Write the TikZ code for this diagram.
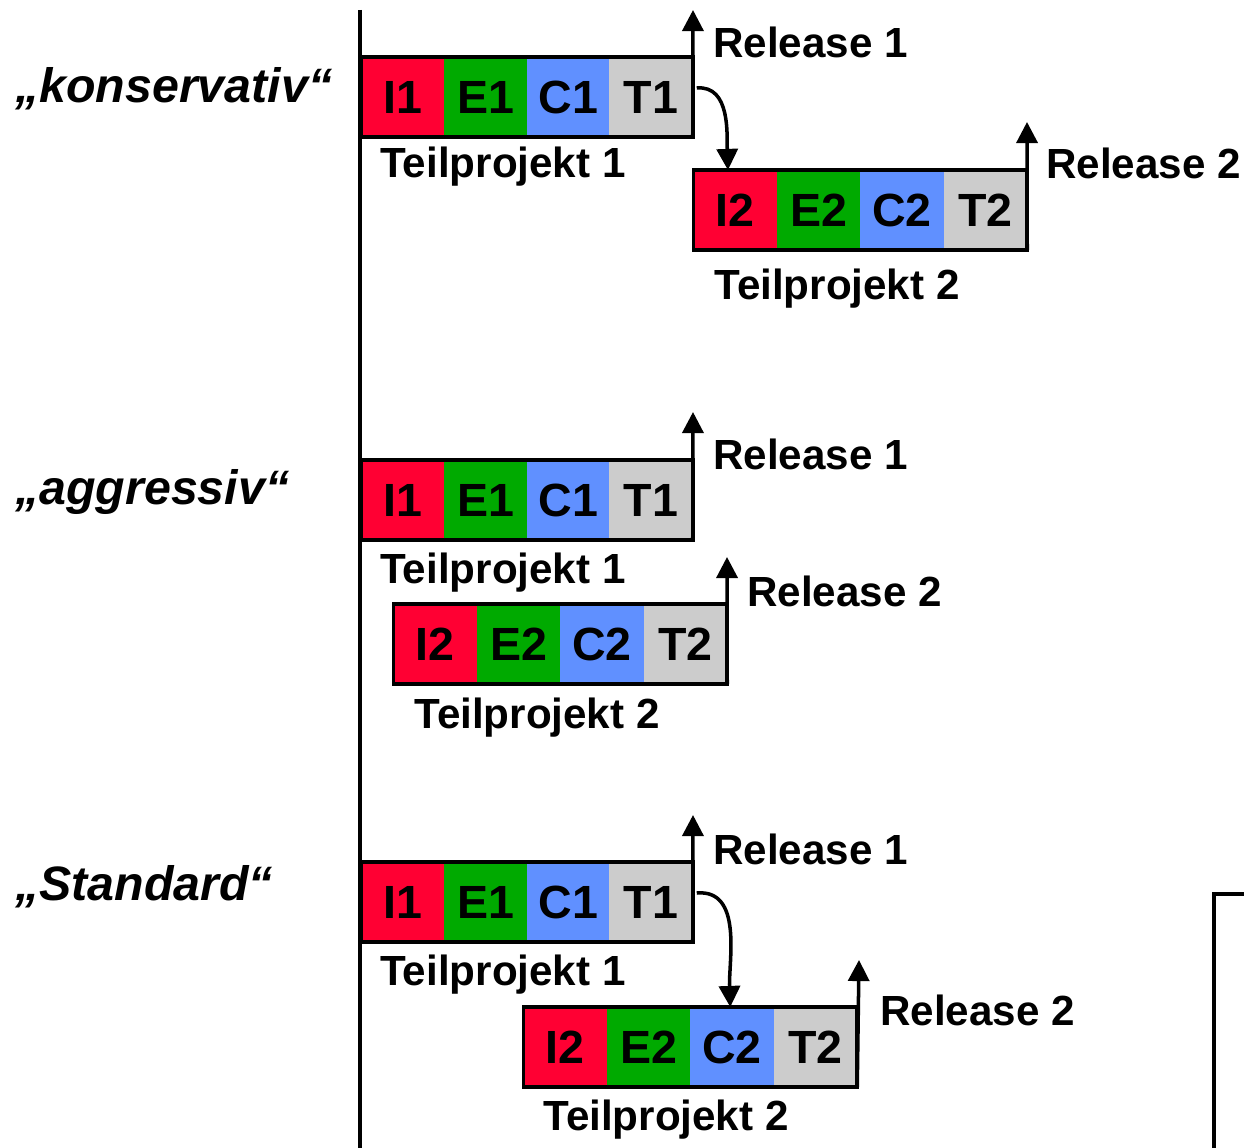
\documentclass[tikz,border=0pt]{standalone}
\usepackage{fontspec}
\setmainfont{Liberation Sans}
\usetikzlibrary{arrows.meta}
\definecolor{cred}{HTML}{FF0033}
\definecolor{cgreen}{HTML}{00AA00}
\definecolor{cblue}{HTML}{6090FF}
\definecolor{cgray}{HTML}{CCCCCC}
\tikzset{
  cell/.style={minimum width=1.67cm, minimum height=1.6cm, inner sep=0pt, outer sep=0pt, font=\fontsize{26.5}{27}\selectfont\bfseries},
  ci/.style={cell, fill=cred},
  ce/.style={cell, fill=cgreen},
  cc/.style={cell, fill=cblue},
  ct/.style={cell, fill=cgray},
  frame/.style={line width=2pt},
  rel/.style={line width=2pt, -{Triangle[length=12pt,width=12pt]}},
  flow/.style={line width=2pt, -{Triangle[length=12pt,width=12pt]}},
  lbl/.style={anchor=base west, inner sep=0pt, font=\fontsize{24}{25}\selectfont\bfseries},
  scen/.style={anchor=base west, inner sep=0pt, font=\fontsize{27.5}{28}\selectfont\bfseries\itshape},
}
\begin{document}
\begin{tikzpicture}[x=0.02cm, y=-0.02cm]
\useasboundingbox (0,0) rectangle (1244,1148);
% axis
\coordinate (axtop) at (360,10);
\coordinate (axbot) at (360,1148);
\draw[frame] (axtop) -- (axbot);
% bottom-right partial frame
\coordinate (brA) at (1214,1148);
\coordinate (brB) at (1214,894);
\coordinate (brC) at (1244,894);
\draw[frame] (brA) -- (brB) -- (brC);

% ===== konservativ =====
\node[scen] (lk) at (15,103) {„konservativ“};
\node[ci] (kI1) at (403,97) {I1};
\node[ce] (kE1) at (485.5,97) {E1};
\node[cc] (kC1) at (568.5,97) {C1};
\node[ct] (kT1) at (651,97) {T1};
\draw[frame] (kI1.north west) rectangle (kT1.south east);
\coordinate (kR1top) at (693,10);
\draw[rel] (kT1.south east) -- (kR1top);
\node[lbl] (kR1) at (713,58) {Release 1};
\node[lbl] (kP1) at (380,178) {Teilprojekt 1};

\node[ci] (kI2) at (735,210) {I2};
\node[ce] (kE2) at (818.5,210) {E2};
\node[cc] (kC2) at (902,210) {C2};
\node[ct] (kT2) at (985.5,210) {T2};
\draw[frame] (kI2.north west) rectangle (kT2.south east);
\coordinate (kR2top) at (1027,122);
\draw[rel] (kT2.south east) -- (kR2top);
\node[lbl] (kR2) at (1046,179) {Release 2};
\node[lbl] (kP2) at (714,300) {Teilprojekt 2};
\draw[flow] ([shift={(4,-9)}]kT1.east) to[out=5,in=92] ([xshift=-4]kI2.north);

% ===== aggressiv =====
\node[scen] (la) at (15,505) {„aggressiv“};
\node[ci] (aI1) at (403,500) {I1};
\node[ce] (aE1) at (485.5,500) {E1};
\node[cc] (aC1) at (568.5,500) {C1};
\node[ct] (aT1) at (651,500) {T1};
\draw[frame] (aI1.north west) rectangle (aT1.south east);
\coordinate (aR1top) at (693,412);
\draw[rel] (aT1.south east) -- (aR1top);
\node[lbl] (aR1) at (713,470) {Release 1};
\node[lbl] (aP1) at (380,583) {Teilprojekt 1};

\node[ci] (aI2) at (435,644) {I2};
\node[ce] (aE2) at (518.5,644) {E2};
\node[cc] (aC2) at (602,644) {C2};
\node[ct] (aT2) at (685.5,644) {T2};
\draw[frame] (aI2.north west) rectangle (aT2.south east);
\coordinate (aR2top) at (727,557);
\draw[rel] (aT2.south east) -- (aR2top);
\node[lbl] (aR2) at (747,606) {Release 2};
\node[lbl] (aP2) at (414,728) {Teilprojekt 2};

% ===== Standard =====
\node[scen] (ls) at (15,900) {„Standard“};
\node[ci] (sI1) at (403,902) {I1};
\node[ce] (sE1) at (485.5,902) {E1};
\node[cc] (sC1) at (568.5,902) {C1};
\node[ct] (sT1) at (651,902) {T1};
\draw[frame] (sI1.north west) rectangle (sT1.south east);
\coordinate (sR1top) at (693,815);
\draw[rel] (sT1.south east) -- (sR1top);
\node[lbl] (sR1) at (713,864) {Release 1};
\node[lbl] (sP1) at (380,985) {Teilprojekt 1};

\node[ci] (sI2) at (565,1047) {I2};
\node[ce] (sE2) at (648.5,1047) {E2};
\node[cc] (sC2) at (732,1047) {C2};
\node[ct] (sT2) at (815.5,1047) {T2};
\draw[frame] (sI2.north west) rectangle (sT2.south east);
\coordinate (sR2top) at (859,960);
\draw[rel] (sT2.south east) -- (sR2top);
\node[lbl] (sR2) at (880,1025) {Release 2};
\node[lbl] (sP2) at (543,1130) {Teilprojekt 2};
\draw[flow] ([shift={(4,-9)}]sT1.east) to[out=5,in=92] ([xshift=-1]sC2.north);
\end{tikzpicture}
\end{document}
